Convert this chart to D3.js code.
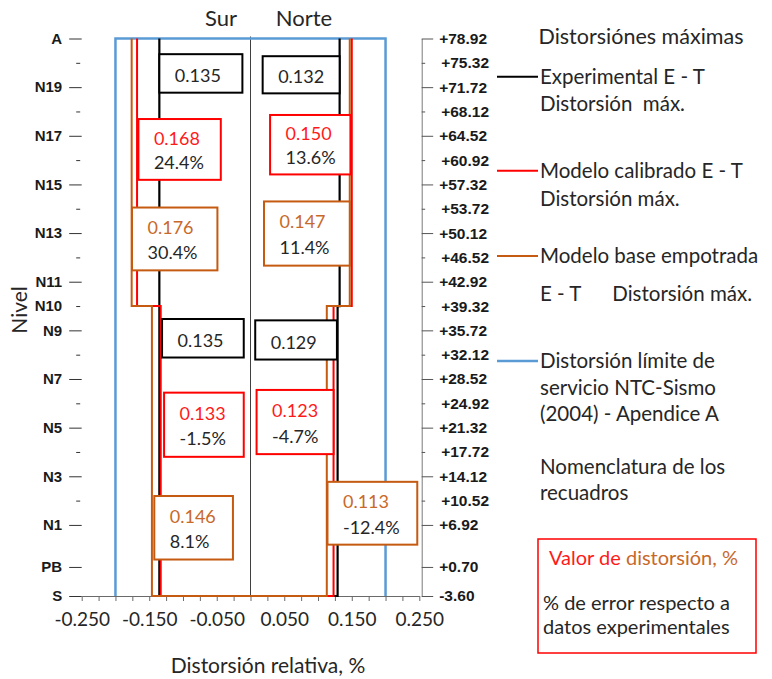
<!DOCTYPE html>
<html>
<head>
<meta charset="utf-8">
<script src="https://cdn.jsdelivr.net/npm/d3@7"></script>
<style>
  body { margin: 0; background: #fff; }
  svg text { white-space: pre; }
</style>
</head>
<body>
<svg id="chart" width="772" height="679"></svg>
<script>
// Building levels and their elevations (m)
const levelNames = ["S","PB","N1","N2","N3","N4","N5","N6","N7","N8","N9","N10","N11","N12","N13","N14","N15","N16","N17","N18","N19","N20","A"];
const elevations = [-3.60,0.70,6.92,10.52,14.12,17.72,21.32,24.92,28.52,32.12,35.72,39.32,42.92,46.52,50.12,53.72,57.32,60.92,64.52,68.12,71.72,75.32,78.92];
const leftLabels = ["S","PB","N1","","N3","","N5","","N7","","N9","N10","N11","","N13","","N15","","N17","","N19","","A"];
const majorLevel = [1,1,1,0,1,0,1,0,1,0,1,0,1,0,1,0,1,0,1,0,1,0,1];

// Relative drift axis
const xTickValues = d3.range(0, 21).map(i => -0.25 + i * 0.025);
const xTickLabels = [-0.25, -0.15, -0.05, 0.05, 0.15, 0.25];

// Height zones of the drift profile: base -> N10 -> roof
const zoneLimits = [-3.60, 39.32, 78.92];

// Maximum drifts per zone [lower, upper] (%), Sur negative, Norte positive
const expSur   = [-0.135, -0.135];
const expNorte = [ 0.129,  0.132];
const calSur   = [-0.133, -0.168];
const calNorte = [ 0.123,  0.150];
const baseSur  = [-0.146, -0.176];
const baseNorte= [ 0.113,  0.147];
const limitSur = -0.2;
const limitNorte = 0.2;

const colors = { exp: "#000000", cal: "#FF0000", base: "#C55A11", limit: "#5B9BD5" };

const svg = d3.select("#chart");
const x = d3.scaleLinear().domain([-0.25, 0.25]).range([81.7, 419.3]);
const y = d3.scaleLinear().domain([-3.60, 78.92]).range([596, 38.5]);

const FONT = "Lato, 'Open Sans', sans-serif";
const AXFONT = "'Liberation Sans', Arial, sans-serif";

// ---- bottom axis
const gx = svg.append("g")
  .attr("transform", `translate(0,${y(-3.60)})`)
  .call(d3.axisBottom(x)
    .tickValues(xTickValues)
    .tickSize(5)
    .tickSizeOuter(0)
    .tickPadding(12)
    .tickFormat(d => xTickLabels.some(v => Math.abs(v - d) < 1e-9) ? d.toFixed(3) : ""));
gx.attr("color", "#6a6a6a");
gx.selectAll("text").attr("fill", "#262626").style("font-family", FONT).style("font-size", "19px");

// ---- left axis (level names)
const gl = svg.append("g")
  .attr("transform", `translate(${x(-0.25)},0)`)
  .call(d3.axisLeft(y)
    .tickValues(elevations)
    .tickSize(12.5)
    .tickSizeOuter(0)
    .tickPadding(7)
    .tickFormat((d, i) => leftLabels[i]));
gl.select(".domain").remove();
gl.attr("color", "#1a1a1a");
gl.selectAll(".tick line")
  .attr("x1", (d, i) => majorLevel[i] ? 0 : -1.5)
  .attr("x2", (d, i) => majorLevel[i] ? -12.5 : -5.5)
  .attr("stroke", "#333");
gl.selectAll("text").style("font-family", AXFONT).style("font-size", "15px").style("font-weight", "bold");

// ---- right axis (elevations)
const gr = svg.append("g")
  .attr("transform", `translate(421.7,0)`)
  .call(d3.axisRight(y)
    .tickValues(elevations)
    .tickSize(11.5)
    .tickSizeOuter(0)
    .tickPadding(6)
    .tickFormat(d => (d >= 0 ? "+" : "") + d.toFixed(2)));
gr.attr("color", "#1a1a1a");
gr.select(".domain").attr("stroke", "#7a7a7a");
gr.selectAll(".tick line")
  .attr("x2", (d, i) => majorLevel[i] ? 11.5 : 3.5)
  .attr("stroke", "#555");
gr.selectAll("text")
  .attr("x", (d, i) => majorLevel[i] ? 17.5 : 19.5)
  .style("font-family", AXFONT).style("font-size", "15.5px").style("font-weight", "bold");

// ---- zero line
svg.append("line")
  .attr("x1", x(0)).attr("x2", x(0))
  .attr("y1", y(78.92) - 2).attr("y2", y(-3.60))
  .attr("stroke", "#404040").attr("stroke-width", 1);

// ---- profiles
const line = d3.line().x(d => x(d[0])).y(d => y(d[1]));
function profile(sur, norte) {
  const [b, m, t] = zoneLimits;
  return [
    [sur[1], t], [sur[1], m], [sur[0], m], [sur[0], b],
    [norte[0], b], [norte[0], m], [norte[1], m], [norte[1], t]
  ];
}
const limitPts = [[limitSur, zoneLimits[0]], [limitSur, zoneLimits[2]], [limitNorte, zoneLimits[2]], [limitNorte, zoneLimits[0]]];

svg.append("path").attr("d", line(limitPts)).attr("fill", "none")
  .attr("stroke", colors.limit).attr("stroke-width", 2.5);
svg.append("path").attr("d", line(profile(expSur, expNorte))).attr("fill", "none")
  .attr("stroke", colors.exp).attr("stroke-width", 2.2);
svg.append("path").attr("d", line(profile(calSur, calNorte))).attr("fill", "none")
  .attr("stroke", colors.cal).attr("stroke-width", 2);
svg.append("path").attr("d", line(profile(baseSur, baseNorte))).attr("fill", "none")
  .attr("stroke", colors.base).attr("stroke-width", 2);

// ---- value boxes
const seriesData = {
  exp:  { Sur: expSur,  Norte: expNorte },
  cal:  { Sur: calSur,  Norte: calNorte },
  base: { Sur: baseSur, Norte: baseNorte }
};
const boxLayout = [
  { s: "exp",  side: "Sur",   zone: 1, xs: [-0.135, -0.012], es: [76.6, 70.9] },
  { s: "exp",  side: "Norte", zone: 1, xs: [ 0.018,  0.132], es: [76.3, 70.8] },
  { s: "cal",  side: "Sur",   zone: 1, xs: [-0.166, -0.044], es: [67.0, 58.0] },
  { s: "cal",  side: "Norte", zone: 1, xs: [ 0.029,  0.148], es: [67.6, 58.8] },
  { s: "base", side: "Sur",   zone: 1, xs: [-0.1755,-0.049], es: [53.9, 44.6] },
  { s: "base", side: "Norte", zone: 1, xs: [ 0.020,  0.147], es: [54.8, 45.3] },
  { s: "exp",  side: "Sur",   zone: 0, xs: [-0.131, -0.010], es: [37.4, 31.7] },
  { s: "exp",  side: "Norte", zone: 0, xs: [ 0.007,  0.128], es: [37.2, 31.4] },
  { s: "cal",  side: "Sur",   zone: 0, xs: [-0.128, -0.010], es: [26.5, 17.0] },
  { s: "cal",  side: "Norte", zone: 0, xs: [ 0.009,  0.123], es: [26.9, 17.4] },
  { s: "base", side: "Sur",   zone: 0, xs: [-0.1425,-0.026], es: [11.2,  1.8] },
  { s: "base", side: "Norte", zone: 0, xs: [ 0.114,  0.247], es: [13.3,  4.0] }
];
const textColors = { exp: "#262626", cal: "#FF1A1A", base: "#C8692A" };
const BFS = 18;
boxLayout.forEach(b => {
  const v = Math.abs(seriesData[b.s][b.side][b.zone]);
  const ref = Math.abs(seriesData.exp[b.side][b.zone]);
  const x0 = x(b.xs[0]), x1 = x(b.xs[1]);
  const y0 = y(b.es[0]), y1 = y(b.es[1]);
  const h = y1 - y0;
  const g = svg.append("g");
  g.append("rect").attr("x", x0).attr("y", y0).attr("width", x1 - x0).attr("height", h)
    .attr("fill", "#fff").attr("stroke", colors[b.s]).attr("stroke-width", 2);
  if (b.s === "exp") {
    g.append("text").attr("x", x0 + 15.5).attr("y", y0 + 0.56 * h + 0.36 * BFS)
      .attr("fill", textColors.exp).style("font-family", FONT).style("font-size", BFS + "px")
      .text(v.toFixed(3));
  } else {
    const err = ((v - ref) / ref * 100).toFixed(1) + "%";
    g.append("text").attr("x", x0 + 15.5).attr("y", y0 + 0.32 * h + 0.36 * BFS)
      .attr("fill", textColors[b.s]).style("font-family", FONT).style("font-size", BFS + "px")
      .text(v.toFixed(3));
    g.append("text").attr("x", x0 + 15.5).attr("y", y0 + 0.72 * h + 0.36 * BFS)
      .attr("fill", "#262626").style("font-family", FONT).style("font-size", BFS + "px")
      .text(err);
  }
});

// ---- titles
function label(txt, px, py, opts = {}) {
  return svg.append("text").attr("x", px).attr("y", py)
    .attr("text-anchor", opts.anchor || "start")
    .attr("fill", opts.fill || "#262626")
    .style("font-family", FONT).style("font-size", (opts.size || 20) + "px")
    .text(txt);
}
label("Sur", 221, 26, { anchor: "middle", size: 22 });
label("Norte", 304, 26, { anchor: "middle", size: 22 });
label("Distorsión relativa, %", 268, 673, { anchor: "middle", size: 21 });
svg.append("text").attr("transform", "translate(27,310) rotate(-90)")
  .attr("text-anchor", "middle").attr("fill", "#262626")
  .style("font-family", FONT).style("font-size", "21px").text("Nivel");

// ---- legend
label("Distorsiónes máximas", 641, 44, { anchor: "middle", size: 21.5 });
const legendEntries = [
  { key: "exp",   lines: ["Experimental E - T", "Distorsión  máx."], y: 76.7, gaps: [0, 27] },
  { key: "cal",   lines: ["Modelo calibrado E - T", "Distorsión máx."], y: 170.7, gaps: [0, 28] },
  { key: "base",  lines: ["Modelo base empotrada", "E - T      Distorsión máx."], y: 256, gaps: [0, 38] },
  { key: "limit", lines: ["Distorsión límite de", "servicio NTC-Sismo", "(2004) - Apendice A"], y: 361, gaps: [0, 26.5, 53] }
];
legendEntries.forEach(e => {
  svg.append("line").attr("x1", 497).attr("x2", 538).attr("y1", e.y).attr("y2", e.y)
    .attr("stroke", colors[e.key]).attr("stroke-width", e.key === "limit" ? 2.5 : 2);
  e.lines.forEach((t, i) => label(t, 540, e.y + e.gaps[i] + 7, { size: 20.5 }));
});
label("Nomenclatura de los", 540, 474, { size: 20.5 });
label("recuadros", 540, 500, { size: 20.5 });
svg.append("rect").attr("x", 538).attr("y", 539).attr("width", 218).attr("height", 114)
  .attr("fill", "none").attr("stroke", "#FF0000").attr("stroke-width", 1.5);
const vt = label("", 549, 565);
vt.append("tspan").attr("fill", "#FF1A1A").text("Valor de ");
vt.append("tspan").attr("fill", "#C8692A").text("distorsión, %");
label("% de error respecto a", 543, 610);
label("datos experimentales", 543, 634);
</script>
</body>
</html>
